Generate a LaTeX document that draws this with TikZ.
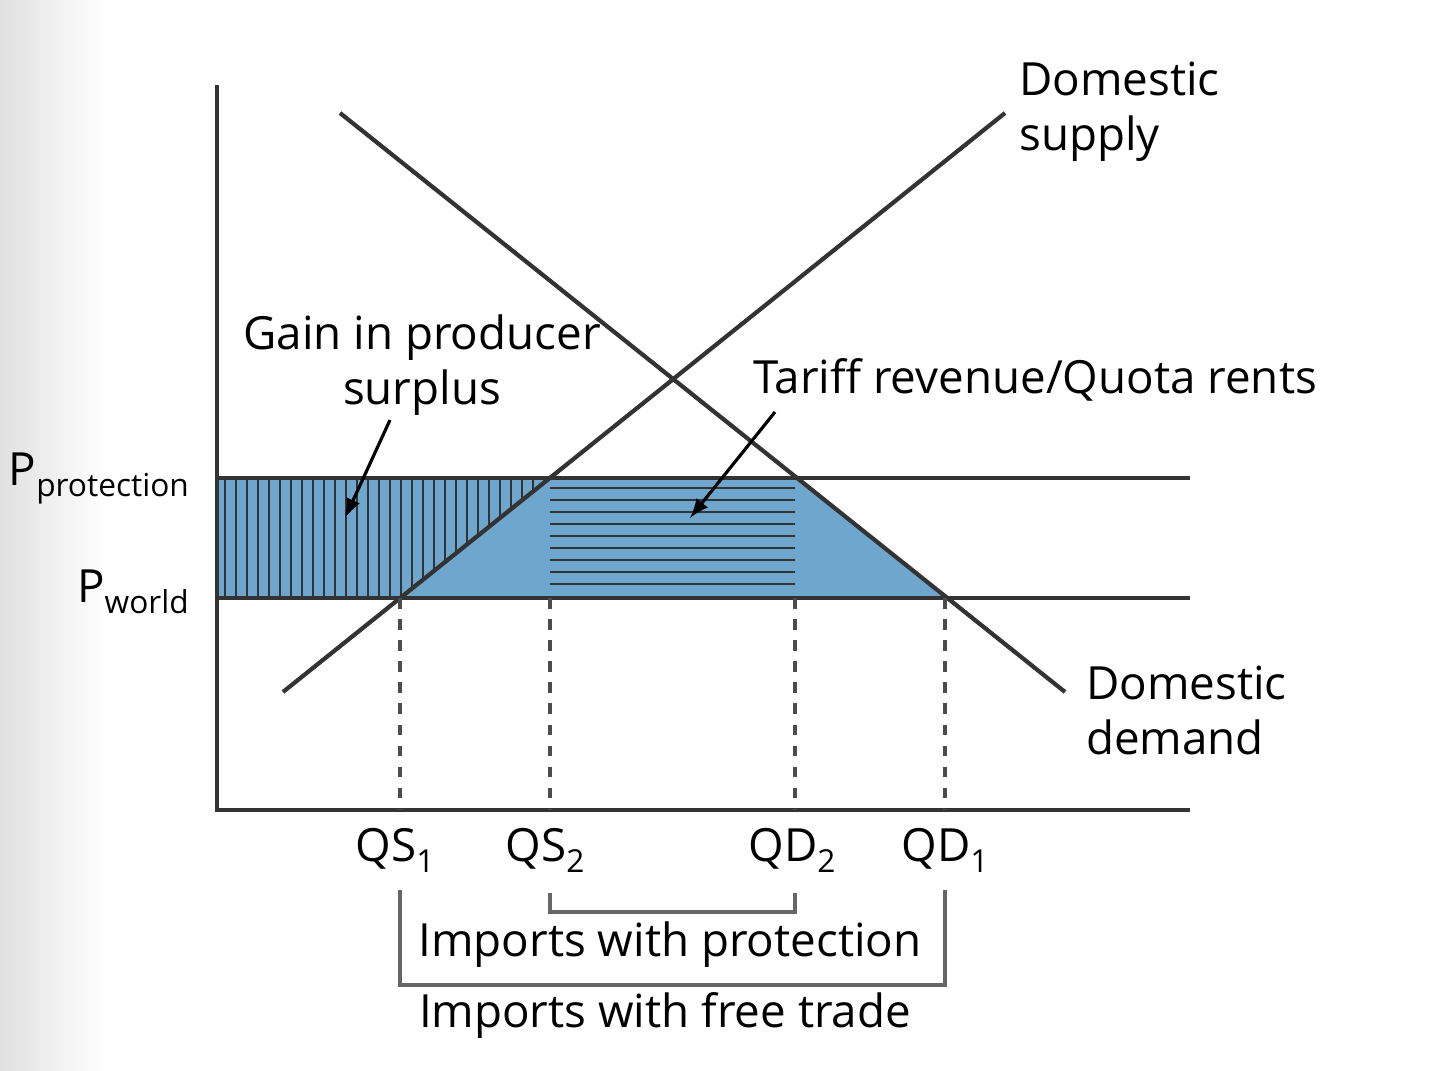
\documentclass[tikz,border=0pt]{standalone}
\usepackage{fontspec}
\setmainfont{Open Sans}
\definecolor{surplus}{RGB}{110,166,206}
\newcommand{\sub}[1]{\raisebox{-0.45ex}{\fontsize{9}{10}\selectfont #1}}
\tikzset{
  curve/.style={line width=1.2pt, black!80},
  guide/.style={dashed, line width=0.9pt, black!70},
  lbl/.style={font=\fontsize{13}{15.5}\selectfont, align=center, inner sep=1pt},
  brk/.style={line width=1pt, black!60},
}
\begin{document}
\begin{tikzpicture}[x=0.01cm, y=-0.01cm]
		\useasboundingbox (0,0) rectangle (1440,1071);
		% background strip
		\shade[left color=black!12, right color=white] (0,0) rectangle (105,1071);
		% shaded area
		\fill[surplus] (217,478) -- (795,478) -- (945,598) -- (217,598) -- cycle;
		% vertical hatching of producer surplus
		\foreach \x in {225,236,...,545}
		{
			\pgfmathsetmacro{\yb}{\x<400 ? 598 : 598-(\x-400)*0.8}
			\draw[black!80, line width=0.6pt] (\x,478) -- (\x,\yb);
		}
		% horizontal stripes of tariff revenue
		\foreach \y in {488,500,...,590}
		{
			\draw[black!80, line width=0.6pt] (550,\y) -- (795,\y);
		}
		% axes
		\draw[curve] (217,85) -- (217,810) -- (1190,810);
		% price lines
		\draw[curve, line width=0.9pt] (217,478) -- (1190,478);
		\draw[curve, line width=0.9pt] (217,598) -- (1190,598);
		% supply and demand
		\coordinate (s0) at (283,692);
		\coordinate (s1) at (1005,113);
		\coordinate (d0) at (340,113);
		\coordinate (d1) at (1065,692);
		\draw[curve] (s0) -- (s1);
		\draw[curve] (d0) -- (d1);
		% quantity labels and guides
		\node[lbl] (qs1) at (395,850) {QS\sub{1}};
		\node[lbl] (qs2) at (545,850) {QS\sub{2}};
		\node[lbl] (qd2) at (792,850) {QD\sub{2}};
		\node[lbl] (qd1) at (945,850) {QD\sub{1}};
		\foreach \x in {400,550,795,945}
		{
			\draw[guide] (\x,598) -- (\x,810);
		}
		% brackets
		\draw[brk] (550,893) -- (550,912) -- (795,912) -- (795,893);
		\draw[brk] (400,890) -- (400,985) -- (945,985) -- (945,890);
		\node[lbl] (imp) at (670,945) {Imports with protection};
		\node[lbl] (free) at (665,1015) {Imports with free trade};
		% price labels
		\node[lbl, anchor=east] (pp) at (193,478) {P\sub{protection}};
		\node[lbl, anchor=east] (pw) at (193,592) {P\sub{world}};
		% curve labels
		\node[lbl, align=left, anchor=north west] (sup) at (1015,58) {Domestic\\supply};
		\node[lbl, align=left, anchor=north west] (dem) at (1082,662) {Domestic\\demand};
		\node[lbl] (gain) at (422,365) {Gain in producer\\surplus};
		\node[lbl] (tariff) at (1035,380) {Tariff revenue/Quota rents};
		\coordinate (ga) at (345,518);
		\coordinate (ta) at (690,518);
		\draw[-latex, line width=0.9pt] (390,420) -- (ga);
		\draw[-latex, line width=0.9pt] (775,412) -- (ta);
	\end{tikzpicture}
\end{document}
